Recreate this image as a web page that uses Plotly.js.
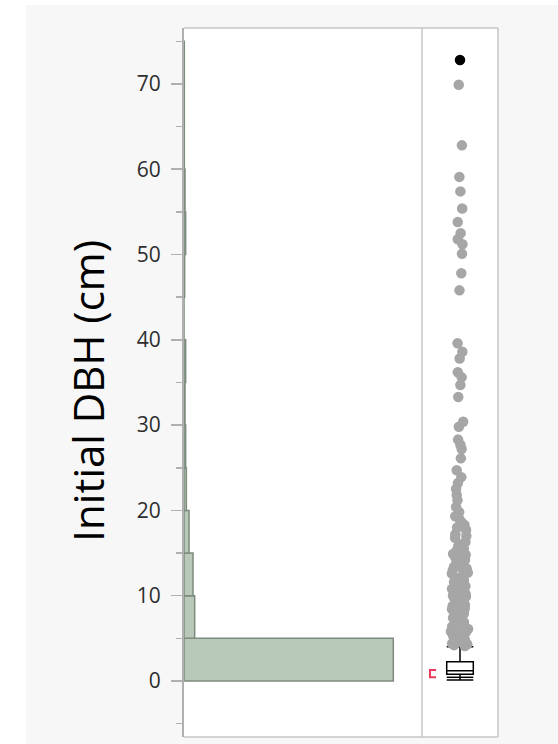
<!DOCTYPE html>
<html>
<head>
<meta charset="utf-8">
<script src="https://cdn.plot.ly/plotly-3.0.1.min.js"></script>
<style>
  html, body { margin: 0; padding: 0; background: #ffffff; }
  #chart { width: 558px; height: 744px; }
</style>
</head>
<body>
<div id="chart"></div>
<script>
// Histogram of initial DBH, 5 cm bins (lower edge of each bin and its count)
const binStarts = [0, 5, 10, 15, 20, 25, 30, 35, 40, 45, 50, 55, 60, 65, 70];
const binCounts = [627, 32, 27, 15, 7, 5, 3, 5, 0, 2, 5, 3, 1, 1, 1];
const binWidth = 5;

// Outlier box plot summary (cm)
const boxQ1 = 0.8;
const boxMedian = 1.2;
const boxQ3 = 2.26;
const whiskerLow = 0.1;
const whiskerHigh = 4.0;
const extraLine = 0.43;           // second short line below the box
const shortestHalf = [0.43, 1.29]; // red bracket span

// Individual trees beyond the upper whisker
const outlierValues = [
  4.1, 4.2, 4.3, 4.4, 4.6, 4.8, 4.9,
  5.0, 5.1, 5.3, 5.4, 5.6, 5.7, 5.8, 6.0, 6.1, 6.3, 6.4, 6.5, 6.8, 6.9, 7.0, 7.2,
  7.4, 7.5, 7.7, 7.9, 8.0, 8.3, 8.4, 8.5, 8.8, 8.9, 9.1, 9.2, 9.5, 9.6, 9.8, 9.9,
  10.0, 10.2, 10.4, 10.5, 10.8, 11.0, 11.1, 11.3, 11.6, 11.8, 12.0, 12.1, 12.4,
  12.6, 12.7, 12.9, 13.0, 13.2, 13.4, 13.6, 13.9, 14.0, 14.2, 14.5, 14.6, 14.8, 14.9,
  15.2, 15.5, 15.8, 16.0, 16.3, 16.8, 17.0, 17.2, 17.7, 18.0, 18.3, 18.6, 19.0, 19.3, 19.8,
  20.4, 21.2, 21.8, 22.5, 23.2, 23.9, 24.7,
  26.1, 27.2, 27.7, 28.3, 29.8,
  30.4, 33.3, 34.7,
  35.6, 36.2, 37.8, 38.6, 39.6,
  45.8, 47.8,
  50.1, 51.2, 51.8, 52.5, 53.8,
  55.4, 57.4, 59.1,
  62.8,
  69.9
];
// Highlighted (selected) tree
const selectedValues = [72.8];

const binCenters = binStarts.map(b => b + binWidth / 2);

const histTrace = {
  type: 'bar',
  orientation: 'h',
  y: binCenters,
  x: binCounts,
  width: binWidth,
  xaxis: 'x',
  yaxis: 'y',
  marker: { color: '#b9c9b9', line: { color: '#7e8c7e', width: 1.5 } },
  hoverinfo: 'skip'
};

const boxTrace = {
  type: 'box',
  xaxis: 'x2',
  yaxis: 'y',
  x: [0],
  q1: [boxQ1],
  median: [boxMedian],
  q3: [boxQ3],
  lowerfence: [whiskerLow],
  upperfence: [whiskerHigh],
  width: 0.7,
  whiskerwidth: 1,
  boxpoints: false,
  fillcolor: '#ffffff',
  line: { color: '#000000', width: 1.5 },
  hoverinfo: 'skip'
};

const extraLineTrace = {
  type: 'scatter',
  mode: 'lines',
  xaxis: 'x2',
  yaxis: 'y',
  x: [-0.35, 0.35],
  y: [extraLine, extraLine],
  line: { color: '#000000', width: 1.5 },
  hoverinfo: 'skip'
};

const bracketTrace = {
  type: 'scatter',
  mode: 'lines',
  xaxis: 'x2',
  yaxis: 'y',
  x: [-0.63, -0.79, -0.79, -0.63],
  y: [shortestHalf[1], shortestHalf[1], shortestHalf[0], shortestHalf[0]],
  line: { color: '#ee3a5a', width: 2 },
  hoverinfo: 'skip'
};

// Points drawn by a box trace whose box is invisible, so Plotly's jitter spreads them
const pointsTrace = {
  type: 'box',
  xaxis: 'x2',
  yaxis: 'y',
  y: outlierValues,
  x0: 0,
  width: 0.7,
  boxpoints: 'all',
  jitter: 0.7,
  pointpos: 0,
  fillcolor: 'rgba(0,0,0,0)',
  line: { color: 'rgba(0,0,0,0)', width: 0 },
  marker: { color: '#a6a6a6', size: 10.5 },
  hoverinfo: 'skip'
};

const selectedTrace = {
  type: 'scatter',
  mode: 'markers',
  xaxis: 'x2',
  yaxis: 'y',
  x: selectedValues.map(() => 0),
  y: selectedValues,
  marker: { color: '#000000', size: 10.5 },
  hoverinfo: 'skip'
};

const frameColor = '#c6c6c6';
const axisColor = '#b0b0b0';

const layout = {
  width: 558,
  height: 744,
  margin: { l: 184, r: 60, t: 28, b: 7, pad: 0 },
  paper_bgcolor: '#f7f7f7',
  plot_bgcolor: '#ffffff',
  showlegend: false,
  bargap: 0,
  boxmode: 'overlay',
  xaxis: {
    domain: [0, 0.758],
    range: [0, 713],
    showticklabels: false, ticks: '', showgrid: false, zeroline: false, showline: false,
    fixedrange: true
  },
  xaxis2: {
    domain: [0.758, 1],
    range: [-1, 1],
    anchor: 'y',
    showticklabels: false, ticks: '', showgrid: false, zeroline: false, showline: false,
    fixedrange: true
  },
  yaxis: {
    range: [-6.57, 76.56],
    tick0: 0,
    dtick: 10,
    ticks: 'outside',
    ticklen: 11,
    tickwidth: 1.5,
    tickcolor: axisColor,
    ticklabelstandoff: 6,
    tickfont: { family: 'Open Sans', size: 21, color: '#2e2e2e' },
    minor: { tick0: 0, dtick: 5, ticks: 'outside', ticklen: 6, tickwidth: 1.5, tickcolor: axisColor },
    showgrid: false,
    zeroline: false,
    showline: true,
    linecolor: axisColor,
    linewidth: 2,
    fixedrange: true
  },
  shapes: [
    // white margin strips around the grey panel
    { type: 'rect', xref: 'paper', yref: 'paper', x0: -0.6, x1: -0.5032, y0: -0.02, y1: 1.05,
      fillcolor: '#ffffff', line: { width: 0 }, layer: 'below' },
    { type: 'rect', xref: 'paper', yref: 'paper', x0: -0.6, x1: 1.3, y0: 1.0324, y1: 1.05,
      fillcolor: '#ffffff', line: { width: 0 }, layer: 'below' },
    // frame
    { type: 'line', xref: 'paper', yref: 'paper', x0: 0, x1: 1, y0: 1, y1: 1,
      line: { color: frameColor, width: 1.5 } },
    { type: 'line', xref: 'paper', yref: 'paper', x0: 0, x1: 1, y0: 0, y1: 0,
      line: { color: frameColor, width: 1.5 } },
    { type: 'line', xref: 'paper', yref: 'paper', x0: 1, x1: 1, y0: 0, y1: 1,
      line: { color: frameColor, width: 1.5 } },
    { type: 'line', xref: 'paper', yref: 'paper', x0: 0.758, x1: 0.758, y0: 0, y1: 1,
      line: { color: frameColor, width: 1.5 } }
  ],
  annotations: [
    { text: 'Initial DBH (cm)', xref: 'paper', yref: 'paper', x: -0.31, y: 0.488,
      xanchor: 'center', yanchor: 'middle', textangle: -90, showarrow: false,
      font: { family: 'Open Sans', size: 42, color: '#000000' } }
  ]
};

Plotly.newPlot('chart',
  [histTrace, boxTrace, extraLineTrace, bracketTrace, pointsTrace, selectedTrace],
  layout, { staticPlot: true, displayModeBar: false });
</script>
</body>
</html>
